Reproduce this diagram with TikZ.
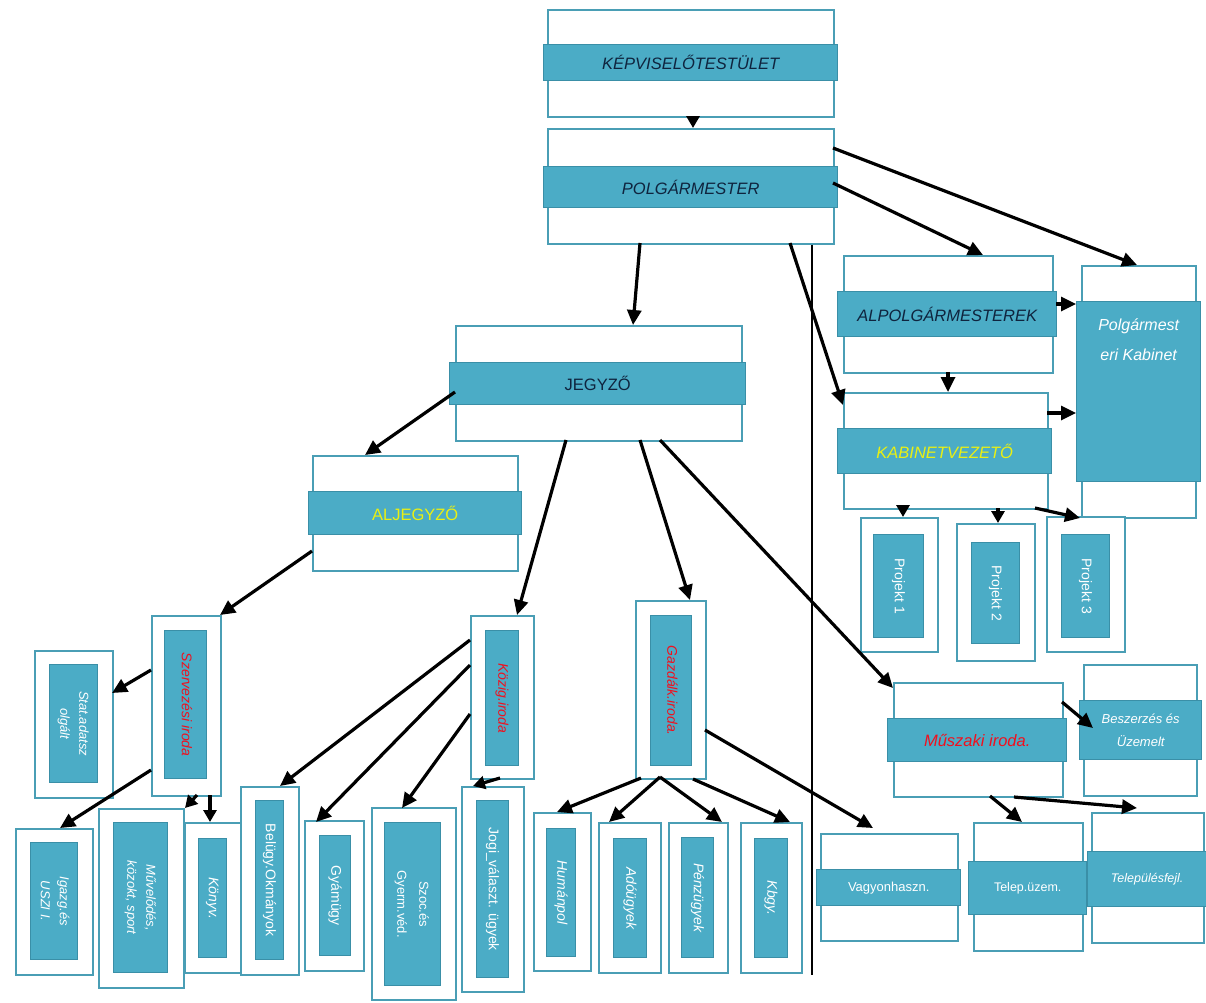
\documentclass[tikz,border=0pt]{standalone}
\usepackage{fontspec}
\setmainfont{Liberation Sans}
\usepackage{graphicx}
\usetikzlibrary{arrows.meta,calc}
\definecolor{bandc}{HTML}{4BACC6}
\definecolor{bandd}{HTML}{3A8FA7}
\definecolor{boxc}{HTML}{4A9EB5}
\definecolor{navy}{HTML}{0F243E}
\definecolor{ylw}{HTML}{EAF012}
\definecolor{rd}{HTML}{F0101E}
\newcommand\bx[7]{\node[#1, anchor=north west, minimum width={(#5)-(#3)}, minimum height={(#6)-(#4)}] (#2) at (#3,-#4) {#7};}
\newcommand\rottxt[1]{\rotatebox{-90}{\begin{tabular}{@{}c@{}}#1\end{tabular}}}
\begin{document}
\begin{tikzpicture}[x=1pt,y=1pt,
  obox/.style={draw=boxc, line width=1.6pt, fill=white, inner sep=0pt},
  band/.style={draw=bandd, line width=1.4pt, fill=bandc, inner sep=0pt, align=center},
  ttl/.style={font=\fontsize{16.5}{19}\selectfont\itshape},
  ttlu/.style={font=\fontsize{16.5}{19}\selectfont},
  smi/.style={font=\fontsize{14}{19}\selectfont\itshape},
  smu/.style={font=\fontsize{14}{19}\selectfont},
  twoi/.style={font=\fontsize{13}{19}\selectfont\itshape},
  twou/.style={font=\fontsize{13}{22}\selectfont},
  arr/.style={-{Triangle[length=15pt,width=14pt]}, line width=3.2pt, black},
  arrs/.style={-{Triangle[length=12pt,width=13pt]}, line width=3.2pt, black}]
\useasboundingbox (0,0) rectangle (1206,-1002);
% top
\bx{obox}{kt}{547}{9}{833}{116}{}
\bx{band,ttl,text=navy}{ktb}{543}{44}{837}{80}{KÉPVISELŐTESTÜLET}
\bx{obox}{polg}{547}{128}{833}{243}{}
\bx{band,ttl,text=navy}{polgb}{543}{166}{837}{207}{POLGÁRMESTER}
\bx{obox}{jegy}{455}{325}{741}{440}{}
\bx{band,ttlu,text=navy}{jegyb}{449}{362}{745}{404}{JEGYZŐ}
\bx{obox}{aljegy}{312}{455}{517}{570}{}
\bx{band,ttlu,text=ylw}{aljegyb}{308}{491}{521}{534}{ALJEGYZŐ}
% right column
\bx{obox}{alpolg}{843}{255}{1052}{372}{}
\bx{band,ttl,text=navy}{alpolgb}{837}{291}{1056}{336}{ALPOLGÁRMESTEREK}
\bx{obox}{kabv}{843}{392}{1047}{508}{}
\bx{band,ttl,text=ylw}{kabvb}{837}{428}{1051}{473}{KABINETVEZETŐ}
\bx{obox}{kab}{1081}{265}{1195}{517}{}
\bx{band}{kabb}{1076}{301}{1200}{481}{}
\node[align=center, text=white, font=\fontsize{16}{30}\selectfont\itshape] (kabt) at ($(kabb.north)+(0,-39)$) {Polgármest\\eri Kabinet};
\bx{obox}{p1}{860}{517}{937}{651}{}
\bx{band,smu,text=white}{p1b}{873}{534}{923}{637}{\rottxt{Projekt 1}}
\bx{obox}{p2}{956}{523}{1034}{660}{}
\bx{band,smu,text=white}{p2b}{971}{542}{1019}{643}{\rottxt{Projekt 2}}
\bx{obox}{p3}{1046}{516}{1124}{651}{}
\bx{band,smu,text=white}{p3b}{1061}{534}{1109}{637}{\rottxt{Projekt 3}}
% Szervezesi
\bx{obox}{szerv}{151}{615}{220}{795}{}
\bx{band,smi,text=rd}{szervb}{164}{630}{206}{778}{\rottxt{Szervezési iroda}}
\bx{obox}{stat}{34}{650}{112}{797}{}
\bx{band,twoi,text=white}{statb}{49}{664}{97}{782}{\rottxt{Stat.adatsz\\olgált}}
\bx{obox}{igazg}{15}{828}{92}{974}{}
\bx{band,twoi,text=white}{igazgb}{30}{842}{77}{959}{\rottxt{Igazg.és\\USZI I.}}
\bx{obox}{muv}{98}{808}{183}{987}{}
\bx{band,twoi,text=white}{muvb}{113}{822}{167}{972}{\rottxt{Művelődés,\\közokt, sport}}
\bx{obox}{konyv}{184}{822}{240}{972}{}
\bx{band,smi,text=white}{konyvb}{198}{838}{226}{957}{\rottxt{Könyv.}}
% Kozig
\bx{obox}{kozig}{470}{615}{533}{778}{}
\bx{band,smi,text=rd}{kozigb}{485}{630}{518}{765}{\rottxt{Közig.iroda}}
\bx{obox}{belugy}{240}{786}{298}{974}{}
\bx{band,smu,text=white}{belugyb}{255}{800}{283}{959}{\rottxt{Belügy.Okmányok}}
\bx{obox}{gyam}{304}{820}{363}{970}{}
\bx{band,smu,text=white}{gyamb}{319}{835}{350}{955}{\rottxt{Gyámügy}}
\bx{obox}{szoc}{371}{807}{455}{999}{}
\bx{band,twou,text=white}{szocb}{384}{822}{440}{985}{\rottxt{Szoc.és\\Gyerm.véd.}}
\bx{obox}{jogi}{461}{786}{523}{991}{}
\bx{band,smu,text=white}{jogib}{476}{800}{508}{977}{\rottxt{Jogi\_választ. ügyek}}
% Gazd
\bx{obox}{gazd}{635}{600}{705}{778}{}
\bx{band,smi,text=rd}{gazdb}{650}{615}{691}{765}{\rottxt{Gazdálk.iroda.}}
\bx{obox}{human}{533}{812}{590}{970}{}
\bx{band,smi,text=white}{humanb}{546}{828}{575}{956}{\rottxt{Humánpol}}
\bx{obox}{ado}{598}{822}{660}{972}{}
\bx{band,smi,text=white}{adob}{613}{838}{646}{957}{\rottxt{Adóügyek}}
\bx{obox}{penz}{668}{822}{727}{972}{}
\bx{band,smi,text=white}{penzb}{681}{837}{713}{957}{\rottxt{Pénzügyek}}
\bx{obox}{kbgy}{740}{822}{801}{972}{}
\bx{band,smi,text=white}{kbgyb}{754}{838}{787}{957}{\rottxt{Kbgy.}}
% Muszaki
\bx{obox}{musz}{893}{682}{1062}{796}{}
\bx{band,ttl,text=rd}{muszb}{887}{718}{1066}{761}{Műszaki iroda.}
\bx{obox}{besz}{1083}{664}{1196}{795}{}
\bx{band,text=white,font=\fontsize{13}{23}\selectfont\itshape}{beszb}{1079}{700}{1201}{759}{Beszerzés és\\Üzemelt}
\bx{obox}{vagy}{820}{833}{957}{940}{}
\bx{band,text=white,font=\fontsize{13}{16}\selectfont}{vagyb}{816}{869}{960}{905}{Vagyonhaszn.}
\bx{obox}{telep}{973}{822}{1082}{950}{}
\bx{band,text=white,font=\fontsize{12.5}{16}\selectfont}{telepb}{968}{861}{1086}{914}{Telep.üzem.}
\bx{obox}{tfejl}{1091}{812}{1203}{942}{}
\bx{band,text=white,font=\fontsize{12.5}{16}\selectfont\itshape}{tfejlb}{1087}{851}{1206}{906}{Településfejl.}
% divider
\coordinate (divtop) at ($(polg.south west)+(265,0)$);
\coordinate (divbot) at (812,-975);
\draw[line width=1.4pt] (divtop) -- (divbot);
% arrows
\draw[arrs] ($(kt.north west)+(146,-107)$) -- ($(polg.north west)+(146,0)$);
\draw[arr] ($(polg.north west)+(286,-20)$) -- ($(kab.north west)+(56,0)$);
\draw[arr] ($(polg.north west)+(286,-55)$) -- ($(alpolg.north west)+(140,0)$);
\draw[arr] ($(polg.north west)+(93,-115)$) -- ($(jegy.north west)+(178,0)$);
\draw[arr] ($(polg.north west)+(243,-115)$) -- ($(kabv.north west)+(0,-13)$);
\draw[arr] ($(alpolg.north west)+(105,-117)$) -- ($(kabv.north west)+(105,0)$);
\draw[arr] ($(alpolgb.north west)+(219,-13)$) -- ($(kabb.north west)+(0,-3)$);
\draw[arr] ($(kabv.north west)+(204,-21)$) -- ($(kabb.north west)+(0,-112)$);
\draw[arrs] ($(kabv.north west)+(60,-116)$) -- ($(p1.north west)+(43,0)$);
\draw[arrs] ($(kabv.north west)+(155,-116)$) -- ($(p2.north west)+(42,0)$);
\draw[arr] ($(kabv.north west)+(192,-116)$) -- ($(p3.north west)+(34,-2)$);
\draw[arr] ($(jegyb.north west)+(6,-30)$) -- ($(aljegy.north west)+(53,0)$);
\draw[arr] ($(jegy.north west)+(111,-115)$) -- ($(kozig.north west)+(47,0)$);
\draw[arr] ($(jegy.north west)+(185,-115)$) -- ($(gazd.north west)+(55,0)$);
\draw[arr] ($(jegy.north west)+(205,-115)$) -- ($(musz.north west)+(0,-6)$);
\draw[arr] ($(aljegy.north west)+(0,-96)$) -- ($(szerv.north west)+(69,0)$);
\draw[arr] ($(szerv.north west)+(0,-55)$) -- ($(stat.north west)+(78,-43)$);
\draw[arr] ($(szerv.north west)+(0,-155)$) -- ($(igazg.north west)+(45,0)$);
\draw[arrs] ($(szerv.north west)+(46,-180)$) -- ($(muv.north west)+(87,0)$);
\draw[arrs] ($(szerv.north west)+(59,-180)$) -- ($(konyv.north west)+(26,0)$);
\draw[arr] ($(kozig.north west)+(0,-25)$) -- ($(belugy.north west)+(40,0)$);
\draw[arr] ($(kozig.north west)+(0,-50)$) -- ($(gyam.north west)+(12,-2)$);
\draw[arr] ($(kozig.north west)+(0,-99)$) -- ($(szoc.north west)+(31,-1)$);
\draw[arrs] ($(kozig.north west)+(30,-163)$) -- ($(jogi.north west)+(12,0)$);
\draw[arr] ($(gazd.north west)+(70,-130)$) -- ($(vagy.north west)+(53,5)$);
\draw[arr] ($(gazd.north west)+(6,-178)$) -- ($(human.north west)+(24,0)$);
\draw[arr] ($(gazd.north west)+(25,-177)$) -- ($(ado.north west)+(11,0)$);
\draw[arr] ($(gazd.north west)+(25,-177)$) -- ($(penz.north west)+(54,0)$);
\draw[arr] ($(gazd.north west)+(58,-179)$) -- ($(kbgy.north west)+(50,0)$);
\draw[arr] ($(musz.north west)+(169,-20)$) -- ($(beszb.north west)+(14,-28)$);
\draw[arr] ($(musz.north west)+(97,-114)$) -- ($(telep.north west)+(49,0)$);
\draw[arr] ($(musz.north west)+(121,-115)$) -- ($(tfejl.north west)+(46,4)$);
\end{tikzpicture}
\end{document}
